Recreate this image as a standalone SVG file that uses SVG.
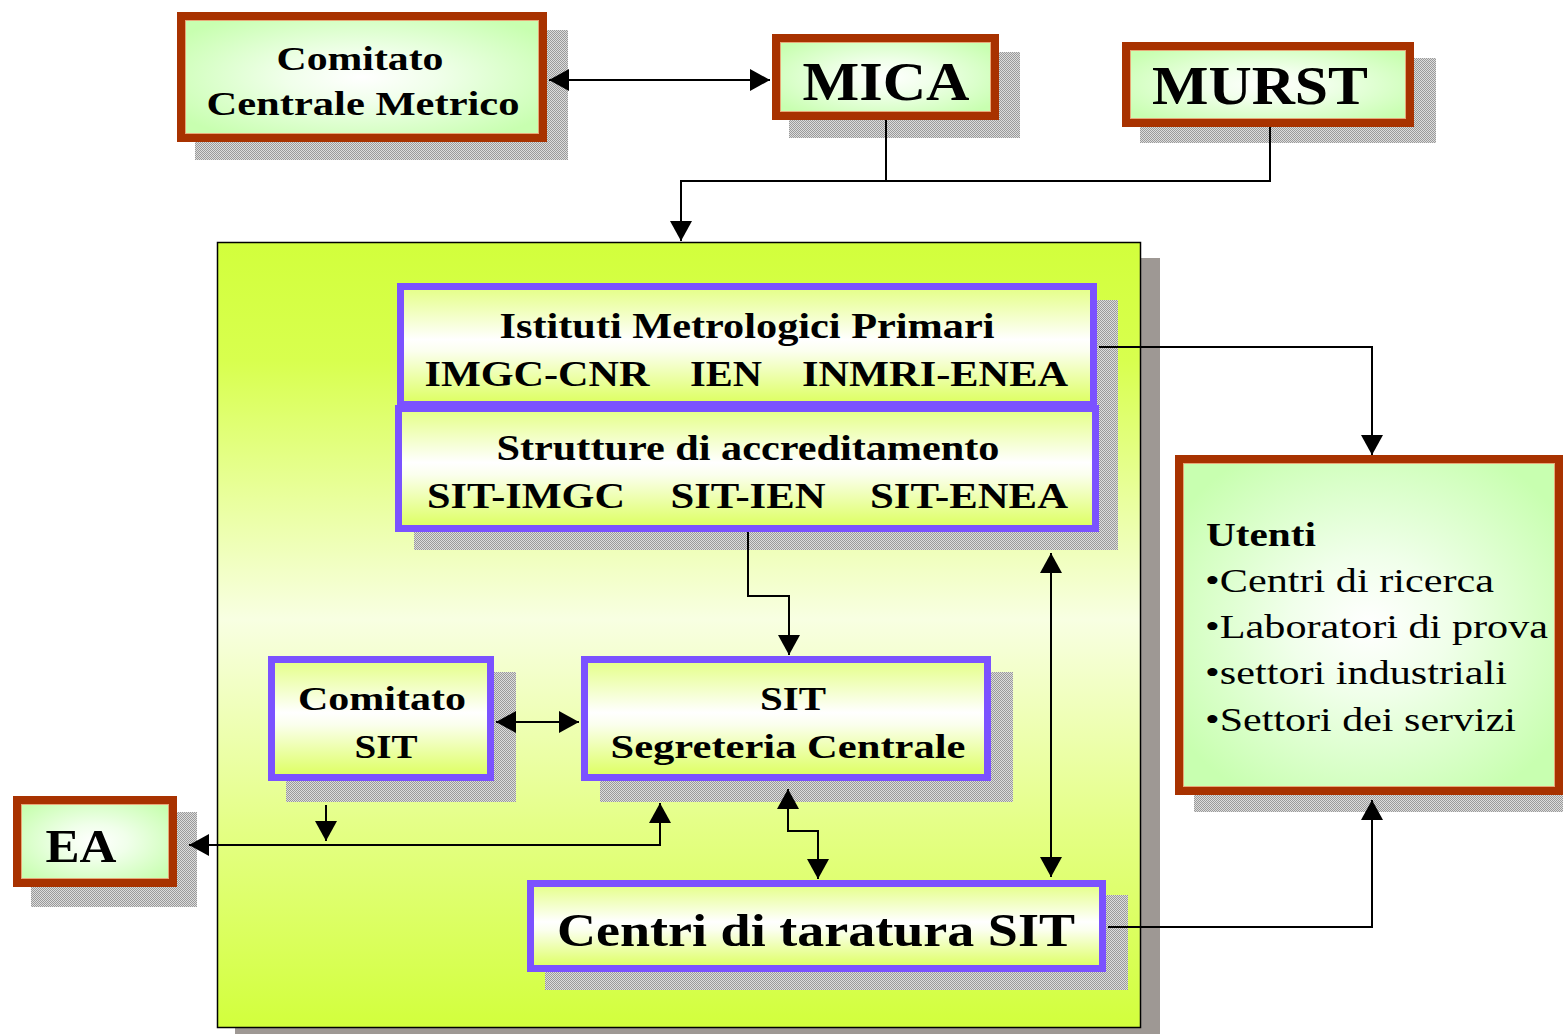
<svg xmlns="http://www.w3.org/2000/svg" width="1563" height="1034" viewBox="0 0 1563 1034">
<defs>
  <pattern id="dither" width="2" height="2" patternUnits="userSpaceOnUse">
    <rect width="2" height="2" fill="#dcdcdc"/>
    <rect width="1" height="1" fill="#9a9a9a"/>
    <rect x="1" y="1" width="1" height="1" fill="#9a9a9a"/>
  </pattern>
  <radialGradient id="greenFill" cx="0.5" cy="0.5" r="0.6">
    <stop offset="0" stop-color="#ffffff"/>
    <stop offset="0.35" stop-color="#f0ffea"/>
    <stop offset="1" stop-color="#c8ffb0"/>
  </radialGradient>
  <linearGradient id="purpleFill" x1="0" y1="0" x2="0" y2="1">
    <stop offset="0" stop-color="#e4ff84"/>
    <stop offset="0.45" stop-color="#ffffff"/>
    <stop offset="0.55" stop-color="#fbffee"/>
    <stop offset="1" stop-color="#dcff5c"/>
  </linearGradient>
  <linearGradient id="containerFill" x1="0" y1="0" x2="0" y2="1">
    <stop offset="0" stop-color="#d2ff3c"/>
    <stop offset="0.15" stop-color="#d8ff4e"/>
    <stop offset="0.48" stop-color="#f8ffe2"/>
    <stop offset="0.75" stop-color="#e4ff84"/>
    <stop offset="1" stop-color="#d2ff3c"/>
  </linearGradient>
  <marker id="arr" markerUnits="userSpaceOnUse" markerWidth="20" markerHeight="22" viewBox="0 0 20 22" refX="20" refY="11" orient="auto-start-reverse" overflow="visible">
    <path d="M0,0 L20,11 L0,22 z" fill="#000"/>
  </marker>
  <style>
    .shadow { fill: url(#dither); }
    .redbox { fill: url(#greenFill); stroke: #a83200; stroke-width: 8; }
    .redinner { fill: none; stroke: #e8a878; stroke-width: 1; }
    .purplebox { fill: url(#purpleFill); stroke: #7b52ff; stroke-width: 7; }
    .t { font-family: "Liberation Serif", "Times New Roman", serif; font-weight: bold; fill: #000; text-anchor: middle; }
    .u { font-family: "Liberation Serif", "Times New Roman", serif; fill: #000; }
    .conn { fill: none; stroke: #000; stroke-width: 2; }
  </style>
</defs>

<rect width="1563" height="1034" fill="#ffffff"/>

<!-- container -->
<g id="container">
  <rect x="235" y="258" width="925" height="776" fill="#9e9894"/>
  <rect x="217.5" y="242.5" width="923" height="785" fill="url(#containerFill)" stroke="#000" stroke-width="1.5"/>
</g>

<g id="comitato-centrale-metrico">
  <rect class="shadow" x="195" y="30" width="373" height="130"/>
  <rect class="redbox" x="181" y="16" width="362" height="122"/>
  <rect class="redinner" x="185.5" y="20.5" width="353" height="113"/>
  <text class="t" x="360" y="70" font-size="33" textLength="167" lengthAdjust="spacingAndGlyphs">Comitato</text>
  <text class="t" x="363" y="115" font-size="33" textLength="313" lengthAdjust="spacingAndGlyphs">Centrale Metrico</text>
</g>

<g id="mica">
  <rect class="shadow" x="789" y="52" width="231" height="86"/>
  <rect class="redbox" x="776" y="38" width="219" height="78"/>
  <rect class="redinner" x="780.5" y="42.5" width="210" height="69"/>
  <text class="t" x="886" y="100" font-size="55" textLength="167" lengthAdjust="spacingAndGlyphs">MICA</text>
</g>

<g id="murst">
  <rect class="shadow" x="1140" y="58" width="296" height="85"/>
  <rect class="redbox" x="1126" y="46" width="284" height="77"/>
  <rect class="redinner" x="1130.5" y="50.5" width="275" height="68"/>
  <text class="t" x="1260" y="104" font-size="54" textLength="216" lengthAdjust="spacingAndGlyphs">MURST</text>
</g>

<g id="istituti-strutture-shadow">
  <rect class="shadow" x="414" y="300" width="704" height="250"/>
</g>

<g id="istituti">
  <rect class="purplebox" x="400.5" y="286.5" width="693" height="118"/>
  <text class="t" x="747" y="338" font-size="36" textLength="495" lengthAdjust="spacingAndGlyphs">Istituti Metrologici Primari</text>
  <text class="t" x="537" y="386" font-size="36" textLength="225" lengthAdjust="spacingAndGlyphs">IMGC-CNR</text>
  <text class="t" x="726" y="386" font-size="36" textLength="72" lengthAdjust="spacingAndGlyphs">IEN</text>
  <text class="t" x="935" y="386" font-size="36" textLength="266" lengthAdjust="spacingAndGlyphs">INMRI-ENEA</text>
</g>

<g id="strutture">
  <rect class="purplebox" x="398.5" y="408.5" width="697" height="120"/>
  <text class="t" x="748" y="460" font-size="36" textLength="503" lengthAdjust="spacingAndGlyphs">Strutture di accreditamento</text>
  <text class="t" x="526" y="508" font-size="36" textLength="198" lengthAdjust="spacingAndGlyphs">SIT-IMGC</text>
  <text class="t" x="748" y="508" font-size="36" textLength="155" lengthAdjust="spacingAndGlyphs">SIT-IEN</text>
  <text class="t" x="969" y="508" font-size="36" textLength="198" lengthAdjust="spacingAndGlyphs">SIT-ENEA</text>
</g>

<g id="comitato-sit">
  <rect class="shadow" x="286" y="672" width="230" height="130"/>
  <rect class="purplebox" x="271.5" y="659.5" width="219" height="118"/>
  <text class="t" x="382" y="710" font-size="34" textLength="168" lengthAdjust="spacingAndGlyphs">Comitato</text>
  <text class="t" x="386" y="758" font-size="34" textLength="63" lengthAdjust="spacingAndGlyphs">SIT</text>
</g>

<g id="sit-segreteria">
  <rect class="shadow" x="600" y="672" width="413" height="130"/>
  <rect class="purplebox" x="584.5" y="659.5" width="403" height="118"/>
  <text class="t" x="793" y="710" font-size="34" textLength="66" lengthAdjust="spacingAndGlyphs">SIT</text>
  <text class="t" x="788" y="758" font-size="34" textLength="355" lengthAdjust="spacingAndGlyphs">Segreteria Centrale</text>
</g>

<g id="ea">
  <rect class="shadow" x="31" y="812" width="166" height="95"/>
  <rect class="redbox" x="17" y="800" width="156" height="83"/>
  <rect class="redinner" x="21.5" y="804.5" width="147" height="74"/>
  <text class="t" x="81" y="862" font-size="46" textLength="71" lengthAdjust="spacingAndGlyphs">EA</text>
</g>

<g id="centri-taratura">
  <rect class="shadow" x="545" y="895" width="583" height="95"/>
  <rect class="purplebox" x="530.5" y="883.5" width="572" height="85"/>
  <text class="t" x="816" y="946" font-size="46" textLength="518" lengthAdjust="spacingAndGlyphs">Centri di taratura SIT</text>
</g>

<g id="utenti">
  <rect class="shadow" x="1194" y="470" width="369" height="342"/>
  <rect class="redbox" x="1179" y="459" width="380" height="332"/>
  <rect class="redinner" x="1183.5" y="463.5" width="371" height="323"/>
  <text class="u" x="1206" y="546" font-size="34" font-weight="bold" textLength="110" lengthAdjust="spacingAndGlyphs">Utenti</text>
  <text class="u" x="1205" y="592" font-size="34" textLength="289" lengthAdjust="spacingAndGlyphs">•Centri di ricerca</text>
  <text class="u" x="1205" y="638" font-size="34" textLength="343" lengthAdjust="spacingAndGlyphs">•Laboratori di prova</text>
  <text class="u" x="1205" y="684" font-size="34" textLength="302" lengthAdjust="spacingAndGlyphs">•settori industriali</text>
  <text class="u" x="1205" y="731" font-size="34" textLength="311" lengthAdjust="spacingAndGlyphs">•Settori dei servizi</text>
</g>

<g id="connectors">
  <path class="conn" d="M549,80 H770" marker-start="url(#arr)" marker-end="url(#arr)"/>
  <path class="conn" d="M886,120 V181"/>
  <path class="conn" d="M1270,127 V181 H681 V241" marker-end="url(#arr)"/>
  <path class="conn" d="M1099,347 H1372 V455" marker-end="url(#arr)"/>
  <path class="conn" d="M748,532 V596 H789 V655" marker-end="url(#arr)"/>
  <path class="conn" d="M496,722 H579" marker-start="url(#arr)" marker-end="url(#arr)"/>
  <path class="conn" d="M1051,553 V877" marker-start="url(#arr)" marker-end="url(#arr)"/>
  <path class="conn" d="M788,789 V831 H818 V879" marker-start="url(#arr)" marker-end="url(#arr)"/>
  <path class="conn" d="M660,803 V845 H189" marker-start="url(#arr)" marker-end="url(#arr)"/>
  <path class="conn" d="M326,805 V841" marker-end="url(#arr)"/>
  <path class="conn" d="M1108,927 H1372 V800" marker-end="url(#arr)"/>
</g>
</svg>
